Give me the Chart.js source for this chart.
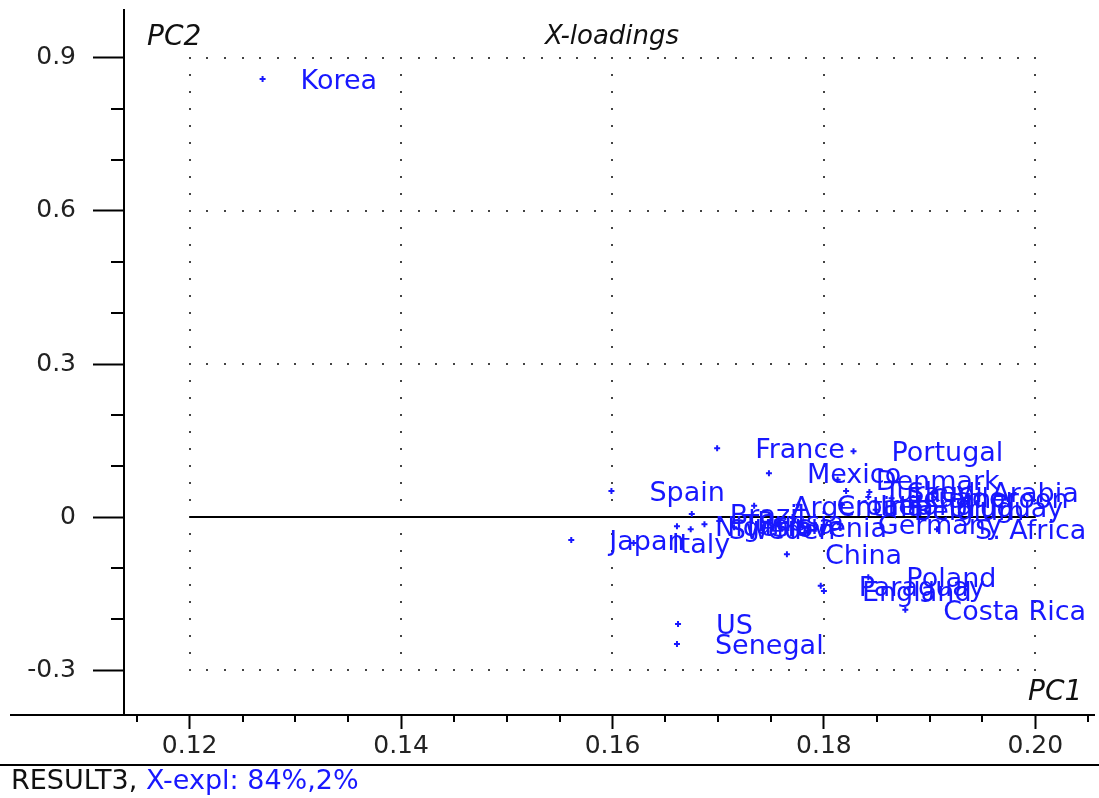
<!DOCTYPE html>
<html><head><meta charset="utf-8">
<script src="https://cdn.jsdelivr.net/npm/chart.js@4"></script>
<style>html,body{margin:0;padding:0;background:#fff;overflow:hidden}canvas{display:block}</style>
</head><body>
<canvas id="c" width="1099" height="798"></canvas>
<script>
const countries = ['Korea','France','Portugal','Mexico','Spain','Japan','Italy','Brazil','Nigeria','Sweden','US','Senegal','China','Paraguay','England','Poland','Costa Rica','Argentina','Slovenia','Germany','S. Africa','Denmark','Saudi Arabia','Turkey','Ecuador','Cameroon','Uruguay','Belgium','Ireland','Croatia','Tunisia','Russia'];
const pc1 = [0.1269,0.1699,0.1828,0.1748,0.1599,0.1561,0.1620,0.1675,0.1661,0.1674,0.1662,0.1661,0.1765,0.1797,0.1800,0.1842,0.1877,0.1734,0.1715,0.1815,0.1907,0.1813,0.1843,0.1821,0.1842,0.1864,0.1882,0.1849,0.1817,0.1776,0.1687,0.1701];
const pc2 = [0.859,0.135,0.129,0.086,0.051,-0.045,-0.051,0.006,-0.018,-0.024,-0.210,-0.249,-0.073,-0.135,-0.145,-0.118,-0.182,0.022,-0.020,-0.014,-0.024,0.073,0.049,0.051,0.039,0.037,0.020,0.014,0.024,0.024,-0.014,-0.008];
const xTicks = [0.12,0.14,0.16,0.18,0.20];
const yTicks = [-0.3,0,0.3,0.6,0.9];
const xMinor = [0.115,0.125,0.13,0.135,0.145,0.15,0.155,0.165,0.17,0.175,0.185,0.19,0.195,0.205];
const yMinor = [-0.2,-0.1,0.1,0.2,0.4,0.5,0.7,0.8];
const xRange = [0.11379,0.20555];
const yRange = [-0.3882,0.9941];
const titleText = 'X-loadings';
const footerA = 'RESULT3, ';
const footerB = 'X-expl: 84%,2%';

const BLUE = 'rgb(24,24,255)';
const FONT = '"DejaVu Sans", sans-serif';

const decor = {
  id:'decor',
  beforeDatasetsDraw(chart){
    const ctx = chart.ctx, xs = chart.scales.x, ys = chart.scales.y;
    ctx.save();
    ctx.fillStyle = '#444';
    const x0 = xs.getPixelForValue(xTicks[0]), x1 = xs.getPixelForValue(xTicks[xTicks.length-1]);
    xTicks.forEach(v=>{
      const px = Math.round(xs.getPixelForValue(v));
      for(let k=0;k<=36;k++){
        const py = Math.round(ys.getPixelForValue(-0.3 + k*0.1/3));
        ctx.fillRect(px-1,py-1,2,2);
      }
    });
    yTicks.forEach(v=>{
      if(v===0) return;
      const py = Math.round(ys.getPixelForValue(v));
      for(let k=0;k<=48;k++){
        const px = Math.round(xs.getPixelForValue(0.12 + k*0.02/12));
        ctx.fillRect(px-1,py-1,2,2);
      }
    });
    ctx.strokeStyle = '#000'; ctx.lineWidth = 2;
    const pz = Math.round(ys.getPixelForValue(0));
    ctx.beginPath(); ctx.moveTo(x0,pz); ctx.lineTo(x1,pz); ctx.stroke();
    ctx.restore();
  },
  afterDatasetsDraw(chart){
    const ctx = chart.ctx;
    const meta = chart.getDatasetMeta(0);
    ctx.save();
    ctx.font = '27px ' + FONT;
    ctx.fillStyle = BLUE;
    ctx.textBaseline = 'alphabetic';
    ctx.textAlign = 'left';
    meta.data.forEach((el,i)=>{
      ctx.fillText(countries[i], el.x + 38, el.y + 10);
    });
    ctx.restore();
  },
  afterDraw(chart){
    const ctx = chart.ctx, xs = chart.scales.x, ys = chart.scales.y, ca = chart.chartArea;
    ctx.save();
    ctx.strokeStyle = '#000'; ctx.lineWidth = 2;
    ctx.beginPath();
    xMinor.forEach(v=>{ const px = Math.round(xs.getPixelForValue(v)); ctx.moveTo(px,ca.bottom); ctx.lineTo(px,ca.bottom+7); });
    yMinor.forEach(v=>{ const py = Math.round(ys.getPixelForValue(v)); ctx.moveTo(ca.left-13,py); ctx.lineTo(ca.left,py); });
    ctx.moveTo(10,ca.bottom); ctx.lineTo(ca.left,ca.bottom);
    ctx.moveTo(0,765); ctx.lineTo(chart.width,765);
    ctx.stroke();
    ctx.fillStyle = '#111';
    ctx.font = 'italic 26px ' + FONT;
    ctx.textBaseline = 'alphabetic';
    ctx.textAlign = 'left';
    ctx.fillText(titleText, 545, 44);
    ctx.font = 'italic 28px ' + FONT;
    ctx.fillText('PC2', 147, 45);
    ctx.fillText('PC1', 1028, 700);
    ctx.font = '27px ' + FONT;
    ctx.fillStyle = '#111';
    ctx.fillText(footerA, 11, 789);
    const w = ctx.measureText(footerA).width;
    ctx.fillStyle = BLUE;
    ctx.fillText(footerB, 11 + w, 789);
    ctx.restore();
  }
};

new Chart(document.getElementById('c').getContext('2d'), {
  type:'scatter',
  data:{datasets:[{
    data: countries.map((c,i)=>({x:pc1[i], y:pc2[i]})),
    pointStyle:'cross', radius:3, hoverRadius:3,
    borderColor:BLUE, backgroundColor:BLUE, borderWidth:2
  }]},
  options:{
    responsive:false, animation:false, devicePixelRatio:1,
    events:[],
    layout:{padding:{top:10,right:0,left:0,bottom:0}},
    plugins:{legend:{display:false}, tooltip:{enabled:false}, title:{display:false}},
    scales:{
      x:{
        type:'linear', position:'bottom', min:xRange[0], max:xRange[1],
        afterBuildTicks:s=>{ s.ticks = xTicks.map(v=>({value:v})); },
        afterFit:s=>{ s.height = 83; s.paddingLeft=0; s.paddingRight=0; s.paddingTop=0; s.paddingBottom=0; },
        grid:{drawOnChartArea:false, drawTicks:true, tickLength:14, color:'#000', tickWidth:2},
        border:{display:true, color:'#000', width:2},
        ticks:{padding:2, color:'#222', font:{family:'DejaVu Sans', size:25}, maxRotation:0, autoSkip:false,
          callback:v=>Number(v).toFixed(2)}
      },
      y:{
        type:'linear', position:'left', min:yRange[0], max:yRange[1],
        afterBuildTicks:s=>{ s.ticks = yTicks.map(v=>({value:v})); },
        afterFit:s=>{ s.width = 124; s.paddingLeft=0; s.paddingRight=0; s.paddingTop=0; s.paddingBottom=0; },
        grid:{drawOnChartArea:false, drawTicks:true, tickLength:31, color:'#000', tickWidth:2},
        border:{display:true, color:'#000', width:2},
        ticks:{padding:17, color:'#222', font:{family:'DejaVu Sans', size:25}, autoSkip:false,
          callback:v=> Number(v)===0 ? '0' : Number(v).toFixed(1)}
      }
    }
  },
  plugins:[decor]
});
</script>
</body></html>
